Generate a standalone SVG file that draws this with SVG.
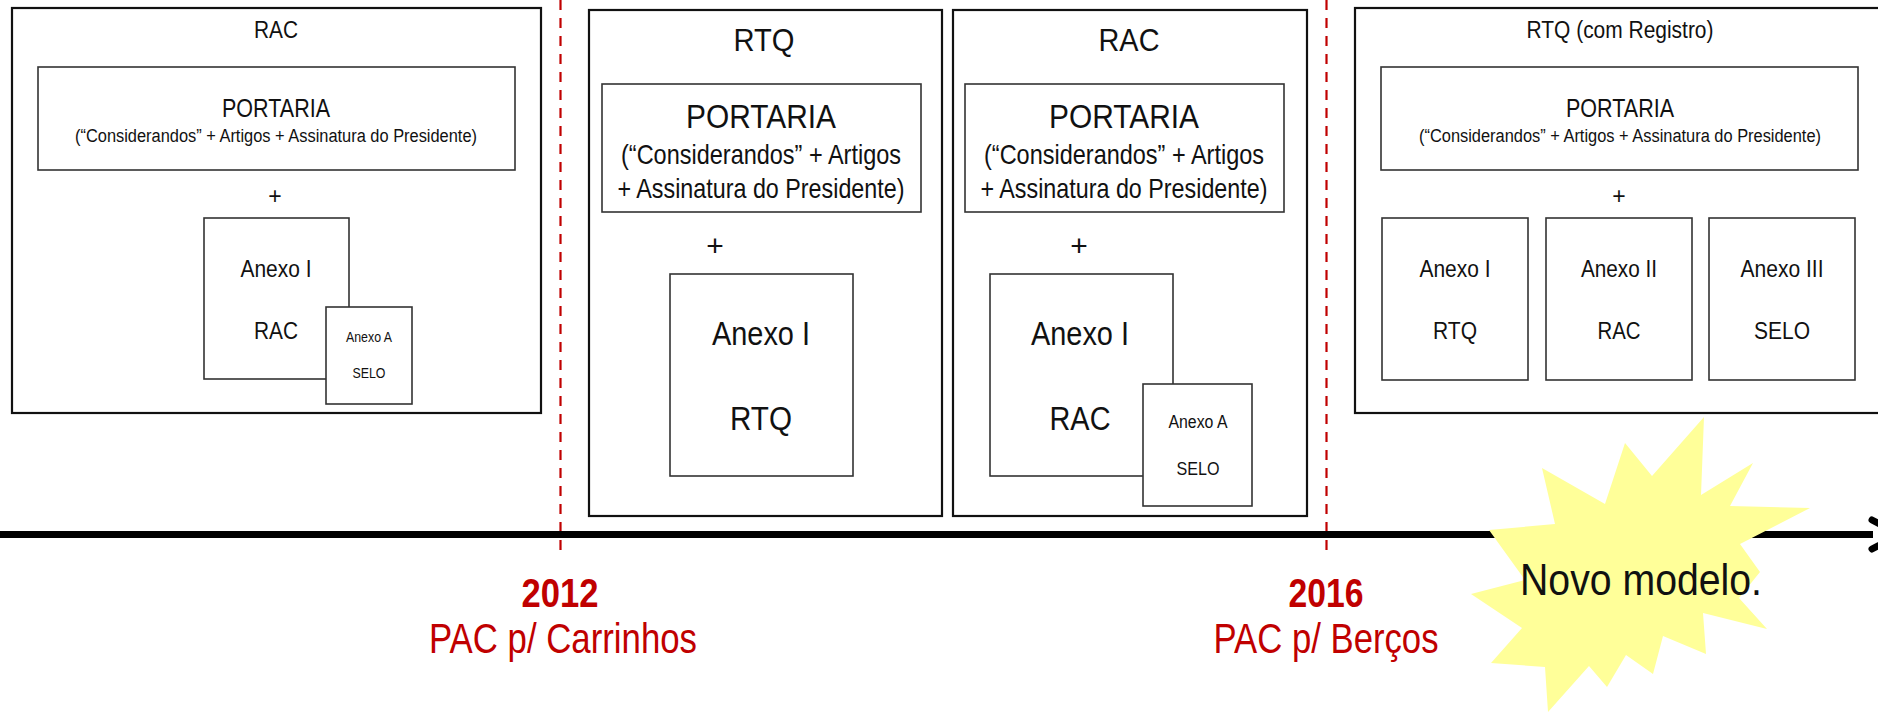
<svg xmlns="http://www.w3.org/2000/svg" width="1878" height="712" viewBox="0 0 1878 712">
<style>
.outer{fill:#fff;stroke:#111;stroke-width:2.2}
.inner{fill:#fff;stroke:#333;stroke-width:1.6}
text{font-family:"Liberation Sans",Arial,sans-serif;fill:#111;text-anchor:middle}
.red{fill:#C00000}
.dash{stroke:#C00000;stroke-width:2.2;stroke-dasharray:10 8;fill:none}
</style>
<rect x="0" y="0" width="1878" height="712" fill="#fff"/>

<g id="connectors">
<line class="dash" x1="560.5" y1="0" x2="560.5" y2="557"/>
<line class="dash" x1="1326.5" y1="0" x2="1326.5" y2="557"/>
<line x1="0" y1="534.5" x2="1873" y2="534.5" stroke="#000" stroke-width="7"/>
<path d="M1872,520 L1900,534.5 L1872,549" fill="none" stroke="#000" stroke-width="7" stroke-linecap="round" stroke-linejoin="round"/>
</g>

<g id="rac-2012">
<rect class="outer" x="12" y="8" width="529" height="405"/>
<text x="276" y="38" font-size="23" textLength="44" lengthAdjust="spacingAndGlyphs">RAC</text>
<rect class="inner" x="38" y="67" width="477" height="103"/>
<text x="276" y="117" font-size="25" textLength="108" lengthAdjust="spacingAndGlyphs">PORTARIA</text>
<text x="276" y="142" font-size="18" textLength="402" lengthAdjust="spacingAndGlyphs">(“Considerandos”  + Artigos + Assinatura do Presidente)</text>
<text x="275" y="204" font-size="23">+</text>
<rect class="inner" x="204" y="218" width="145" height="161"/>
<text x="276" y="277" font-size="24" textLength="71" lengthAdjust="spacingAndGlyphs">Anexo I</text>
<text x="276" y="339" font-size="24" textLength="44" lengthAdjust="spacingAndGlyphs">RAC</text>
<rect class="inner" x="326" y="307" width="86" height="97"/>
<text x="369" y="342" font-size="14" textLength="46" lengthAdjust="spacingAndGlyphs">Anexo A</text>
<text x="369" y="378" font-size="14" textLength="33" lengthAdjust="spacingAndGlyphs">SELO</text>
</g>

<g id="rtq-2012">
<rect class="outer" x="589" y="10" width="353" height="506"/>
<text x="764" y="51" font-size="31" textLength="61" lengthAdjust="spacingAndGlyphs">RTQ</text>
<rect class="inner" x="602" y="84" width="319" height="128"/>
<text x="761" y="128" font-size="34" textLength="150" lengthAdjust="spacingAndGlyphs">PORTARIA</text>
<text x="761" y="164" font-size="28" textLength="280" lengthAdjust="spacingAndGlyphs">(“Considerandos” + Artigos</text>
<text x="761" y="198" font-size="28" textLength="287" lengthAdjust="spacingAndGlyphs">+ Assinatura do Presidente)</text>
<text x="715" y="256" font-size="30">+</text>
<rect class="inner" x="670" y="274" width="183" height="202"/>
<text x="761" y="345" font-size="33" textLength="98" lengthAdjust="spacingAndGlyphs">Anexo I</text>
<text x="761" y="430" font-size="33" textLength="62" lengthAdjust="spacingAndGlyphs">RTQ</text>
</g>

<g id="rac-2016">
<rect class="outer" x="953" y="10" width="354" height="506"/>
<text x="1129" y="51" font-size="31" textLength="61" lengthAdjust="spacingAndGlyphs">RAC</text>
<rect class="inner" x="965" y="84" width="319" height="128"/>
<text x="1124" y="128" font-size="34" textLength="150" lengthAdjust="spacingAndGlyphs">PORTARIA</text>
<text x="1124" y="164" font-size="28" textLength="280" lengthAdjust="spacingAndGlyphs">(“Considerandos” + Artigos</text>
<text x="1124" y="198" font-size="28" textLength="287" lengthAdjust="spacingAndGlyphs">+ Assinatura do Presidente)</text>
<text x="1079" y="256" font-size="30">+</text>
<rect class="inner" x="990" y="274" width="183" height="202"/>
<text x="1080" y="345" font-size="33" textLength="98" lengthAdjust="spacingAndGlyphs">Anexo I</text>
<text x="1080" y="430" font-size="33" textLength="61" lengthAdjust="spacingAndGlyphs">RAC</text>
<rect class="inner" x="1143" y="384" width="109" height="122"/>
<text x="1198" y="428" font-size="18" textLength="59" lengthAdjust="spacingAndGlyphs">Anexo A</text>
<text x="1198" y="475" font-size="18" textLength="43" lengthAdjust="spacingAndGlyphs">SELO</text>
</g>

<g id="rtq-registro">
<rect class="outer" x="1355" y="8" width="560" height="405"/>
<text x="1620" y="38" font-size="23" textLength="187" lengthAdjust="spacingAndGlyphs">RTQ (com Registro)</text>
<rect class="inner" x="1381" y="67" width="477" height="103"/>
<text x="1620" y="117" font-size="25" textLength="108" lengthAdjust="spacingAndGlyphs">PORTARIA</text>
<text x="1620" y="142" font-size="18" textLength="402" lengthAdjust="spacingAndGlyphs">(“Considerandos”  + Artigos + Assinatura do Presidente)</text>
<text x="1619" y="204" font-size="23">+</text>
<rect class="inner" x="1382" y="218" width="146" height="162"/>
<text x="1455" y="277" font-size="24" textLength="71" lengthAdjust="spacingAndGlyphs">Anexo I</text>
<text x="1455" y="339" font-size="24" textLength="44" lengthAdjust="spacingAndGlyphs">RTQ</text>
<rect class="inner" x="1546" y="218" width="146" height="162"/>
<text x="1619" y="277" font-size="24" textLength="76" lengthAdjust="spacingAndGlyphs">Anexo II</text>
<text x="1619" y="339" font-size="24" textLength="43" lengthAdjust="spacingAndGlyphs">RAC</text>
<rect class="inner" x="1709" y="218" width="146" height="162"/>
<text x="1782" y="277" font-size="24" textLength="83" lengthAdjust="spacingAndGlyphs">Anexo III</text>
<text x="1782" y="339" font-size="24" textLength="56" lengthAdjust="spacingAndGlyphs">SELO</text>
</g>

<g id="label-2012">
<text class="red" x="560" y="607" font-size="40" font-weight="bold" textLength="77" lengthAdjust="spacingAndGlyphs">2012</text>
<text class="red" x="563" y="653" font-size="42" textLength="268" lengthAdjust="spacingAndGlyphs">PAC p/ Carrinhos</text>
</g>

<g id="label-2016">
<text class="red" x="1326" y="607" font-size="40" font-weight="bold" textLength="75" lengthAdjust="spacingAndGlyphs">2016</text>
<text class="red" x="1326" y="653" font-size="42" textLength="225" lengthAdjust="spacingAndGlyphs">PAC p/ Berços</text>
</g>

<g id="novo-modelo">
<polygon fill="#FFFF99" points="1704,417 1701,495 1753,463 1730,506 1810,508 1740,544 1760,572 1739,598 1767,629 1703,613 1706,654 1663,636 1653,674 1626,655 1607,687 1589,666 1548,712 1545,667 1491,663 1522,628 1471,594 1525,580 1489,530 1555,524 1542,468 1605,504 1625,443 1652,476"/>
<text x="1641" y="595" font-size="44" textLength="242" lengthAdjust="spacingAndGlyphs">Novo modelo.</text>
</g>
</svg>
